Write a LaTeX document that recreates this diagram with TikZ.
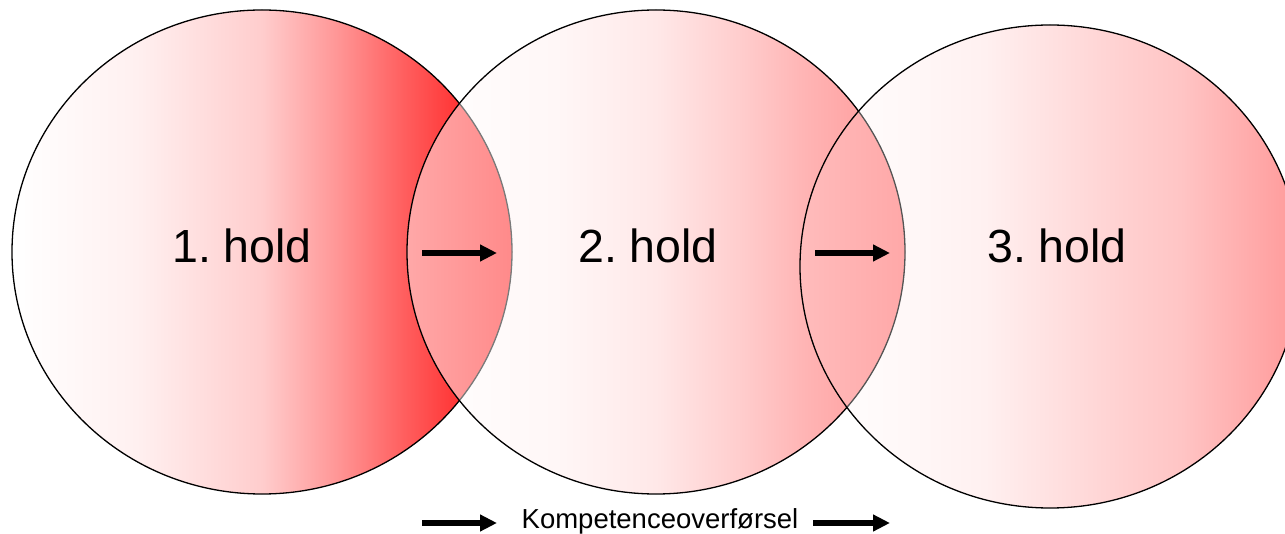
\documentclass[tikz,border=0pt]{standalone}
\usepackage{fontspec}
\setmainfont{Liberation Sans}
\usetikzlibrary{arrows.meta}
\frenchspacing

% circle 1
\definecolor{pa1}{RGB}{255,240,240}
\definecolor{pa2}{RGB}{255,205,205}
\definecolor{pa3}{RGB}{255,150,150}
\definecolor{pa4}{RGB}{255,96,96}
\definecolor{pa5}{RGB}{255,50,50}
\definecolor{pa6}{RGB}{255,20,20}
% circle 2 (as seen over white)
\definecolor{pb1}{RGB}{255,247,247}
\definecolor{pb2}{RGB}{255,232,232}
\definecolor{pb3}{RGB}{255,205,205}
\definecolor{pb4}{RGB}{255,180,180}
\definecolor{pb5}{RGB}{255,165,165}
\definecolor{pb6}{RGB}{255,153,153}
% circle 3 (as seen over white)
\definecolor{pc1}{RGB}{255,248,248}
\definecolor{pc2}{RGB}{255,240,240}
\definecolor{pc3}{RGB}{255,208,208}
\definecolor{pc4}{RGB}{255,197,197}
\definecolor{pc5}{RGB}{255,160,160}
\definecolor{pc6}{RGB}{255,155,155}
% overlaps
\definecolor{po1}{RGB}{255,168,168}
\definecolor{po2}{RGB}{255,138,138}
\definecolor{pq1}{RGB}{255,188,188}
\definecolor{pq2}{RGB}{255,168,168}
\definecolor{hiddenone}{RGB}{122,122,122}
\definecolor{hiddentwo}{RGB}{85,85,85}

\pgfdeclarehorizontalshading{shadeone}{100bp}{color(0bp)=(white); color(25bp)=(white); color(37.5bp)=(pa1); color(50bp)=(pa2); color(57.5bp)=(pa3); color(64bp)=(pa4); color(70bp)=(pa5); color(75bp)=(pa6); color(100bp)=(pa6)}
\pgfdeclarehorizontalshading{shadetwo}{100bp}{color(0bp)=(white); color(25bp)=(white); color(40bp)=(pb1); color(50bp)=(pb2); color(58.5bp)=(pb3); color(65bp)=(pb4); color(70bp)=(pb5); color(75bp)=(pb6); color(100bp)=(pb6)}
\pgfdeclarehorizontalshading{shadethree}{100bp}{color(0bp)=(white); color(25bp)=(white); color(35.5bp)=(pc1); color(43.5bp)=(pc2); color(57.5bp)=(pc3); color(63bp)=(pc4); color(73bp)=(pc5); color(75bp)=(pc6); color(100bp)=(pc6)}
\pgfdeclarehorizontalshading{shadeovone}{100bp}{color(0bp)=(po1); color(25bp)=(po1); color(35.5bp)=(po2); color(100bp)=(po2)}
\pgfdeclarehorizontalshading{shadeovtwo}{100bp}{color(0bp)=(pq1); color(25bp)=(pq1); color(35.5bp)=(pq2); color(100bp)=(pq2)}

\tikzset{
  outline/.style={draw=black, line width=1.3pt},
  holdtxt/.style={font=\fontsize{46.5}{50}\selectfont, anchor=base, inner sep=0pt},
  kompetxt/.style={font=\fontsize{27.5}{30}\selectfont, anchor=base, inner sep=0pt},
  bigarrow/.style={draw=black, line width=6pt, -{Triangle[length=17pt,width=16pt]}},
  ellone/.style={x radius=250, y radius=242},
  elltwo/.style={x radius=249, y radius=242},
  ellthree/.style={x radius=250, y radius=241.5},
}

\begin{document}
\begin{tikzpicture}[x=1pt,y=-1pt]
\useasboundingbox (0,0) rectangle (1285,534);

\coordinate (c1) at (262,252);
\coordinate (c2) at (656,252);
\coordinate (c3) at (1050,266.5);

% circle 1
\fill[shading=shadeone] (c1) ellipse [ellone];
\draw[outline] (c1) ellipse [ellone];
% circle 2
\fill[shading=shadetwo] (c2) ellipse [elltwo];
\begin{scope}
  \clip (c1) ellipse [ellone];
  \fill[shading=shadeovone] (c2) ellipse [elltwo];
\end{scope}
\begin{scope}
  \clip (c2) ellipse [elltwo];
  \draw[outline, draw=hiddenone] (c1) ellipse [ellone];
\end{scope}
\draw[outline] (c2) ellipse [elltwo];
% circle 3
\fill[shading=shadethree] (c3) ellipse [ellthree];
\begin{scope}
  \clip (c2) ellipse [elltwo];
  \fill[shading=shadeovtwo] (c3) ellipse [ellthree];
\end{scope}
\begin{scope}
  \clip (c3) ellipse [ellthree];
  \draw[outline, draw=hiddentwo] (c2) ellipse [elltwo];
\end{scope}
\draw[outline] (c3) ellipse [ellthree];

% texts
\node[holdtxt] (t1) at (242,263) {1. hold};
\node[holdtxt] (t2) at (648,263) {2. hold};
\node[holdtxt] (t3) at (1057,263) {3. hold};
\node[kompetxt] (k) at (660,528) {Kompetenceoverførsel};

% arrows
\coordinate (a1s) at (422,253);
\coordinate (a1e) at (497,253);
\coordinate (a2s) at (815,253);
\coordinate (a2e) at (890,253);
\coordinate (b1s) at (422,523);
\coordinate (b1e) at (497,523);
\coordinate (b2s) at (813,523);
\coordinate (b2e) at (890,523);
\draw[bigarrow] (a1s) -- (a1e);
\draw[bigarrow] (a2s) -- (a2e);
\draw[bigarrow] (b1s) -- (b1e);
\draw[bigarrow] (b2s) -- (b2e);
\end{tikzpicture}
\end{document}
